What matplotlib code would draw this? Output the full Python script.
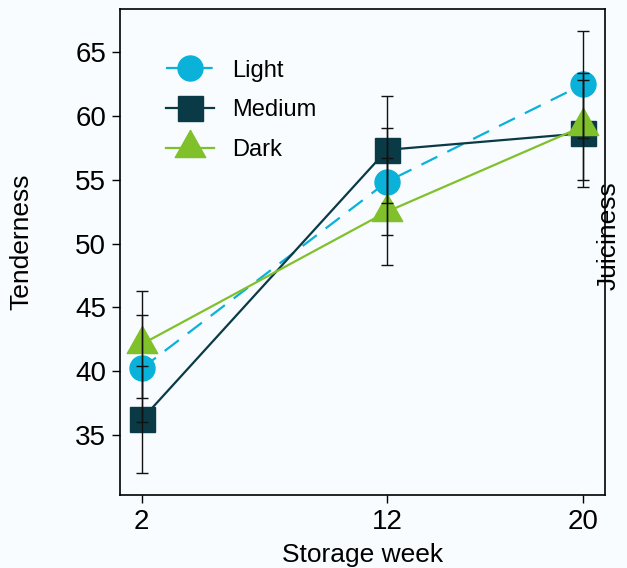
import matplotlib
matplotlib.use("Agg")
import matplotlib.pyplot as plt
import numpy as np

plt.rcParams['font.family'] = ['Liberation Sans', 'DejaVu Sans']

# Data
weeks = [2, 12, 20]
light = [40.2, 54.85, 62.5]
medium = [36.2, 57.35, 58.65]
dark = [42.1, 52.5, 59.2]
light_err = [4.2, 4.2, 4.2]
medium_err = [4.2, 4.2, 4.2]
dark_err = [4.2, 4.2, 4.2]
series_names = ['Light', 'Medium', 'Dark']

c_light = '#0ab1d8'
c_medium = '#0b3a47'
c_dark = '#80c12b'
bg = '#f8fcfe'

# triangle centred on its centroid (the reference draws it that way)
h = 1.78
tri = [(0, 2 * h / 3), (-1, -h / 3), (1, -h / 3), (0, 2 * h / 3)]

fig = plt.figure(figsize=(6.27, 5.68), dpi=100, facecolor=bg)
ax = fig.add_axes([0.1914, 0.1285, 0.7736, 0.855], facecolor=bg)

ax.plot(weeks, light, color=c_light, lw=1.6, dashes=(8, 5), marker='o',
        ms=18, mec=c_light, label=series_names[0], zorder=3)
ax.plot(weeks, medium, color=c_medium, lw=1.6, marker='s',
        ms=18, mec=c_medium, label=series_names[1], zorder=3)
ax.plot(weeks, dark, color=c_dark, lw=1.6, marker=tri,
        ms=26, mec=c_dark, label=series_names[2], zorder=3)

# error bars drawn over the markers
for vals, err in [(light, light_err), (medium, medium_err), (dark, dark_err)]:
    ax.errorbar(weeks, vals, yerr=err, fmt='none', ecolor='#111111',
                elinewidth=1.0, capsize=4, capthick=1.0, zorder=5)

ax.set_xlim(1.115, 20.885)
ax.set_ylim(30.27, 68.37)
ax.set_xticks(weeks)
ax.set_yticks([35, 40, 45, 50, 55, 60, 65])
ax.tick_params(direction='out', length=6, width=1, labelsize=20, pad=4)

for s in ax.spines.values():
    s.set_linewidth(1.2)

ax.set_xlabel('Storage week', fontsize=19, labelpad=6)
ax.set_ylabel('Tenderness', fontsize=19)
ax.yaxis.set_label_coords(-0.178, 0.521)
ax.text(1.008, 0.535, 'Juiciness', transform=ax.transAxes, rotation=90,
        fontsize=19, ha='center', va='center')

ax.legend(loc='upper left', bbox_to_anchor=(0.052, 0.94), frameon=False,
          fontsize=17, handlelength=2.0, labelspacing=0.75, handletextpad=0.8)

fig.savefig('out.png', dpi=100, facecolor=bg)
